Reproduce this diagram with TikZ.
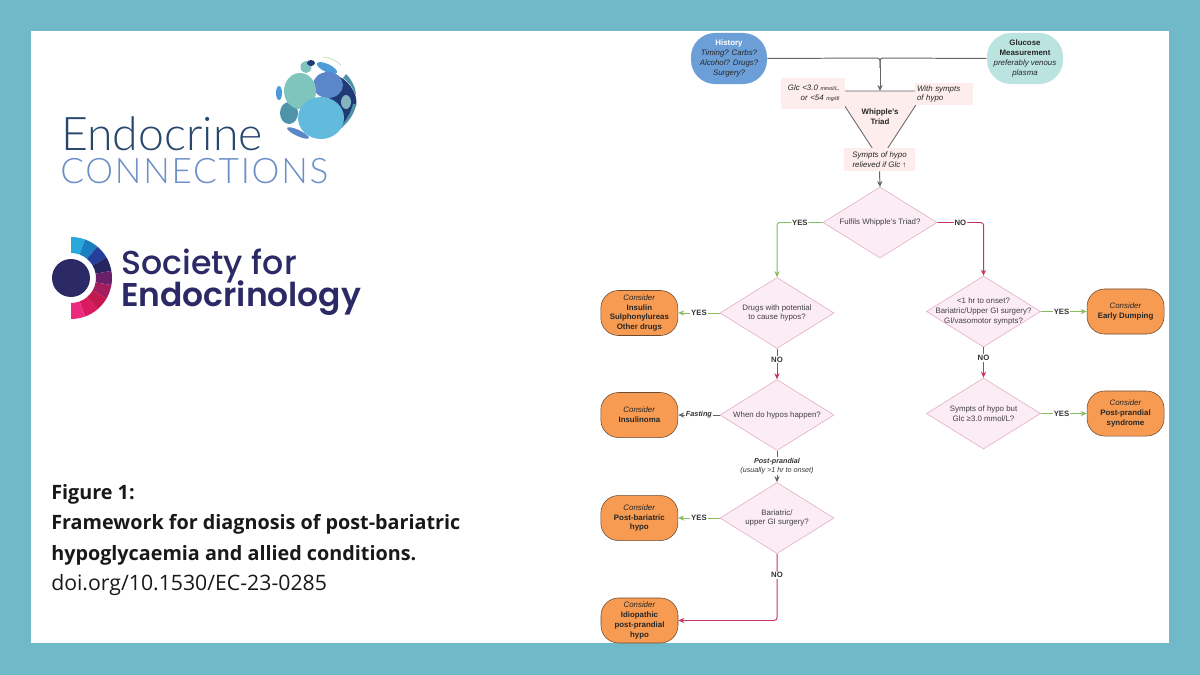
\documentclass[tikz,border=0pt]{standalone}
\usepackage{fontspec}
\setmainfont{Liberation Sans}
\newfontfamily\capfont{Open Sans}
\newfontfamily\endofont{Lato Light}
\newfontfamily\endowide[LetterSpace=5]{Lato Light}
\newfontfamily\socfont{Poppins Medium}
\newfontfamily\socbold{Poppins SemiBold}
\usetikzlibrary{shapes.geometric}
\usetikzlibrary{arrows.meta}

\definecolor{framecol}{HTML}{6FB9C9}
\definecolor{histcol}{HTML}{6C9FD8}
\definecolor{glucol}{HTML}{BBE3E0}
\definecolor{pinkbox}{HTML}{FDEDEC}
\definecolor{diafill}{HTML}{FCEDF5}
\definecolor{diadraw}{HTML}{E2ABC4}
\definecolor{orangecol}{HTML}{F79B52}
\definecolor{orangedraw}{HTML}{6B4A32}
\definecolor{yescol}{HTML}{86BD5C}
\definecolor{nocol}{HTML}{C9355A}
\definecolor{linecol}{HTML}{666666}
\definecolor{endodark}{HTML}{27476F}
\definecolor{endolight}{HTML}{6B8FC7}
\definecolor{socnavy}{HTML}{2B2A66}
\definecolor{globea}{HTML}{62BBDD}
\definecolor{globeb}{HTML}{7FC4BD}
\definecolor{globec}{HTML}{5B87C9}
\definecolor{globed}{HTML}{4F93A8}
\definecolor{globee}{HTML}{4D9CD9}
\definecolor{globef}{HTML}{1F3A75}

\begin{document}
\begin{tikzpicture}[
		x=0.025cm,
		y=-0.025cm,
		>={Stealth[length=1.5mm,width=1.3mm]},
		every node/.style={
			font=\fontsize{5.6}{6.9}\selectfont,
			text=black!85,
			align=center,
			inner sep=0pt
		},
		startbox/.style={
			rectangle,
			rounded corners=0.6cm,
			minimum width=1.9cm,
			minimum height=1.275cm
		},
		considerbox/.style={
			rectangle,
			rounded corners=0.44cm,
			draw=orangedraw,
			fill=orangecol,
			line width=0.4pt,
			minimum width=1.925cm,
			minimum height=1.125cm
		},
		pinklabel/.style={
			rectangle,
			fill=pinkbox
		},
		query/.style={
			diamond,
			draw=diadraw,
			fill=diafill,
			line width=0.4pt,
			minimum width=2.85cm,
			minimum height=1.775cm
		},
		querytext/.style={
			font=\fontsize{5.6}{6.9}\selectfont,
			text=black!75,
			align=center
		},
		yesline/.style={draw=yescol,line width=0.7pt},
		noline/.style={draw=nocol,line width=0.7pt},
		plainline/.style={draw=linecol,line width=0.7pt},
		tag/.style={
			fill=white,
			font=\fontsize{5.5}{6.9}\selectfont\bfseries,
			text=black!80,
			inner sep=0.6pt
		}]

		\fill[framecol] (0,0) rectangle (1200,675);
		\fill[white] (31,31) rectangle (1169,643);

		%endocrine connections logo
		\fill[globef] (338,76) .. controls (352,82) and (360,100) .. (355,108) .. controls (352,118) and (346,124) .. (338,128) -- (325,85) -- cycle;
		\fill[globed] (346,74) .. controls (352,80) and (356,88) .. (356,96) .. controls (353,88) and (349,82) .. (343,78) -- cycle;
		\fill[globed] (356,104) .. controls (354,114) and (349,122) .. (338,131) .. controls (346,120) and (351,113) .. (353,104) -- cycle;
		\fill[globed] (289,113) ellipse (9 and 11);
		\fill[globee] (279,93) ellipse (3 and 7);
		\fill[globec,rotate around={-25:(298,133)}] (298,133) ellipse (12 and 3);
		\fill[globeb] (306,67) ellipse (5.5 and 6);
		\fill[globef] (311,63) ellipse (4 and 3);
		\fill[globee,rotate around={-25:(327,68)}] (327,68) ellipse (11 and 4);
		\fill[globec] (328,85) ellipse (15 and 13);
		\fill[globeb] (300,91) ellipse (16 and 18);
		\fill[globed!70!white] (346,102) ellipse (5 and 7);
		\fill[globea] (321,118) ellipse (23 and 21);
		\draw[yescol!60,line width=0.4pt] (323,57) .. controls (331,58) and (337,61) .. (341,65);
		\node[anchor=base west,font=\fontsize{33}{33}\selectfont\endofont,text=endodark] (endoname) at (61,151) {Endocrine};
		\node[anchor=base west,font=\fontsize{25}{25}\selectfont\endowide,text=endolight] (endoconn) at (60,184) {CONNECTIONS};

		%society logo
		\fill[socnavy] (71,278) circle (19);
		\foreach \segcol [count=\i] in {29A8DC,1A7FC1,24409A,262560,6B1F6B,A31E5F,C4184F,D81B60,EC2A7E} {
			\definecolor{segfill}{HTML}{\segcol}
			\pgfmathsetmacro{\a}{90-(\i-1)*20}
			\pgfmathsetmacro{\b}{90-\i*20}
			\fill[segfill,shift={(71,278)},y=0.025cm] (\a:41) arc (\a:\b:41) -- (\b:25) arc (\b:\a:25) -- cycle;
		}
		\node[anchor=base west,font=\fontsize{23.6}{23.6}\selectfont\socfont,text=socnavy] (socname) at (121,274) {Society for};
		\node[anchor=base west,font=\fontsize{23.4}{23.4}\selectfont\socbold,text=socnavy] (endocr) at (121,306) {Endocrinology};

		%caption
		\node[anchor=north west,align=left,font=\fontsize{14.06}{21.7}\selectfont\capfont,text=black!90] (caption) at (51,484) {\textbf{Figure 1:}\\\textbf{Framework for diagnosis of post-bariatric}\\\textbf{hypoglycaemia and allied conditions.}\\{\fontsize{15.1}{21.7}\selectfont doi.org/10.1530/EC-23-0285}};

		%top of flow
		\node[startbox,fill=histcol] at (729,58.5) (history) {\textcolor{white}{\textbf{History}}\\\textit{Timing? Carbs?}\\\textit{Alcohol? Drugs?}\\\textit{Surgery?}};
		\node[startbox,fill=glucol] at (1025,58.5) (glucose) {\textbf{Glucose}\\\textbf{Measurement}\\\textit{preferably venous}\\\textit{plasma}};

		%triad
		\coordinate (tl) at (835,91);
		\coordinate (tr) at (925,91);
		\coordinate (tb) at (880,160);
		\coordinate (join) at (880,58);
		\filldraw[fill=pinkbox,draw=linecol,line width=0.6pt] (tl) -- (tr) -- (tb) -- cycle;
		\node[pinklabel,minimum width=1.6cm,minimum height=0.775cm,text width=1.325cm,align=right] at (813,93.5) (glc) {\textit{Glc <3.0 {\fontsize{3.8}{4}\selectfont mmol/L,}}\\\textit{or <54 {\fontsize{3.8}{4}\selectfont mg/dl}}};
		\node[pinklabel,minimum width=1.45cm,minimum height=0.55cm,text width=1.35cm,align=left] at (944,94) (sympts) {\textit{With sympts}\\\textit{of hypo}};
		\node[pinklabel,minimum width=1.775cm,minimum height=0.575cm] at (879.5,159.5) (relief) {\textit{Sympts of hypo}\\\textit{relieved if Glc ↑}};
		\node[font=\fontsize{5.6}{6.9}\selectfont\bfseries] at (880,117) (triad) {Whipple's\\Triad};

		\draw[plainline,rounded corners=2pt] (history.east) -- (join) -- (880,68);
		\draw[plainline,rounded corners=2pt] (glucose.west) -- (join) -- (880,68);
		\draw[plainline,->] (880,66) -- (880,91);
		\draw[plainline,->] (relief.south) -- (880,187);

		%left column
		\node[query,label={[querytext]center:Fulfils Whipple's Triad?}] at (880,222.5) (d1) {};
		\node[query,label={[querytext]center:Drugs with potential\\to cause hypos?}] at (777,313) (d2) {};
		\node[below of=d2, node distance=2.55cm, query,label={[querytext]center:When do hypos happen?}] (d3) {};
		\node[below of=d3, node distance=2.575cm, query,label={[querytext]center:Bariatric/\\upper GI surgery?}] (d4) {};

		\node[left of=d2, node distance=3.44cm, considerbox] (c1) {\textit{Consider}\\\textbf{Insulin}\\\textbf{Sulphonylureas}\\\textbf{Other drugs}};
		\node[left of=d3, node distance=3.44cm, considerbox] (c2) {\textit{Consider}\\\textbf{Insulinoma}};
		\node[left of=d4, node distance=3.44cm, considerbox] (c3) {\textit{Consider}\\\textbf{Post-bariatric}\\\textbf{hypo}};
		\node[considerbox] at (639.5,620.5) (c4) {\textit{Consider}\\\textbf{Idiopathic}\\\textbf{post-prandial}\\\textbf{hypo}};

		%right column
		\node[query,label={[querytext]center:<1 hr to onset?\\Bariatric/Upper GI surgery?\\GI/vasomotor sympts?}] at (983.5,311.5) (d5) {};
		\node[below of=d5, node distance=2.55cm, query,label={[querytext]center:Sympts of hypo but\\Glc ≥3.0 mmol/L?}] (d6) {};
		\node[right of=d5, node distance=3.55cm, considerbox] (c5) {\textit{Consider}\\\textbf{Early Dumping}};
		\node[right of=d6, node distance=3.55cm, considerbox] (c6) {\textit{Consider}\\\textbf{Post-prandial}\\\textbf{syndrome}};

		%connectors
		\draw[yesline,->,rounded corners=2pt] (d1.west) -| node[tag,pos=0.25] {YES} (d2.north);
		\draw[noline,->,rounded corners=2pt] (d1.east) -| node[tag,pos=0.25] {NO} (d5.north);
		\draw[yesline,->] (d2.west) -- node[tag] {YES} (c1.east);
		\draw[noline,->] (d2.south) -- node[tag,pos=0.35] {NO} (d3.north);
		\draw[plainline,->] (d3.west) -- node[tag,font=\fontsize{5.2}{6.9}\selectfont\bfseries\itshape] {Fasting} (c2.east);
		\draw[plainline,->] (d3.south) -- node[tag,font=\fontsize{5.1}{6.4}\selectfont,pos=0.48] {\textbf{\textit{Post-prandial}}\\\textit{(usually >1 hr to onset)}} (d4.north);
		\draw[yesline,->] (d4.west) -- node[tag] {YES} (c3.east);
		\draw[noline,->,rounded corners=2pt] (d4.south) |- node[tag,pos=0.16] {NO} (c4.east);
		\draw[yesline,->] (d5.east) -- node[tag,pos=0.45] {YES} (c5.west);
		\draw[noline,->] (d5.south) -- node[tag,pos=0.35] {NO} (d6.north);
		\draw[yesline,->] (d6.east) -- node[tag,pos=0.45] {YES} (c6.west);

	\end{tikzpicture}
\end{document}
